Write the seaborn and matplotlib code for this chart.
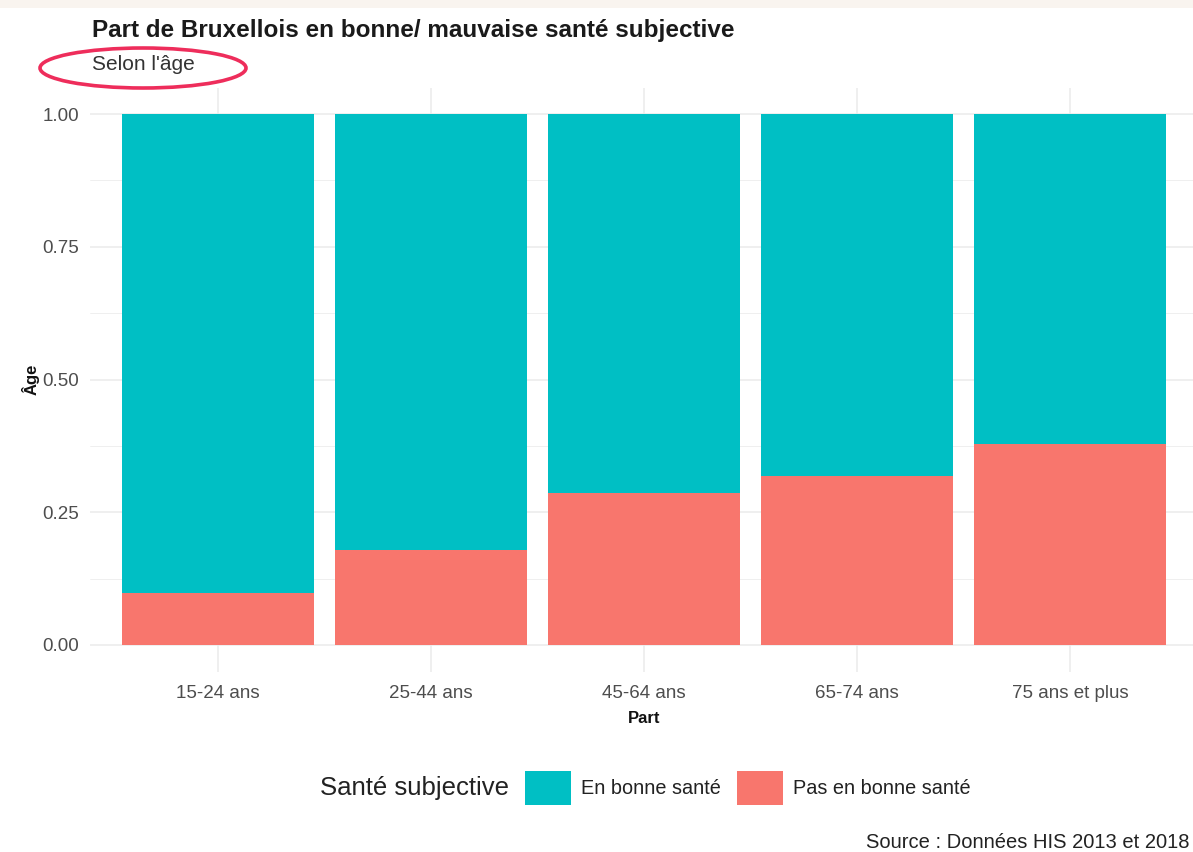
import matplotlib
matplotlib.use("Agg")
import matplotlib.pyplot as plt
from matplotlib.patches import Ellipse, Patch, Rectangle
from matplotlib.ticker import MultipleLocator
import numpy as np
import pandas as pd
import seaborn as sns

# Data: share of Brussels residents by subjective health, per age group
age_groups = ["15-24 ans", "25-44 ans", "45-64 ans", "65-74 ans", "75 ans et plus"]
share_bad = [0.097, 0.178, 0.286, 0.318, 0.378]
share_good = [round(1 - v, 3) for v in share_bad]
health_levels = ["En bonne santé", "Pas en bonne santé"]
y_ticks = [0.00, 0.25, 0.50, 0.75, 1.00]

TEAL = "#00BFC4"
SALMON = "#F8766D"
GRID = "#EBEBEB"
TXT = "#4D4D4D"

sns.set_theme(style="white")
plt.rcParams["font.family"] = ["Liberation Sans", "DejaVu Sans"]

W, H = 1193, 852
fig = plt.figure(figsize=(W / 100, H / 100), dpi=100)
fig.patch.set_facecolor("white")

# pale band along the top edge
fig.add_artist(Rectangle((0, 1 - 8 / H), 1, 8 / H, transform=fig.transFigure,
                         facecolor="#F9F4EF", edgecolor="none", zorder=0))

def fx(px):
    return px / W

def fy(py):
    return 1 - py / H

ax_left, ax_right, ax_top, ax_bottom = 90, 1198, 87.5, 671.5
ax = fig.add_axes([fx(ax_left), fy(ax_bottom), fx(ax_right - ax_left),
                   (ax_bottom - ax_top) / H])
ax.set_facecolor("white")

df = pd.DataFrame({"age": age_groups, "bad": share_bad, "good": share_good})
df["stack_top"] = df["bad"] + df["good"]

# stacked bars: good-health share sits on top of the poor-health share
sns.barplot(data=df, x="age", y="stack_top", color=TEAL, saturation=1,
            width=0.9, ax=ax, zorder=2, order=age_groups, linewidth=0)
sns.barplot(data=df, x="age", y="bad", color=SALMON, saturation=1,
            width=0.9, ax=ax, zorder=3, order=age_groups, linewidth=0)

ax.set_xlim(-0.6, len(age_groups) - 0.4)
ax.set_ylim(-0.05, 1.05)
ax.set_yticks(y_ticks)
ax.set_yticklabels([f"{v:.2f}" for v in y_ticks])
ax.yaxis.set_minor_locator(MultipleLocator(0.125))
ax.grid(which="major", axis="both", color=GRID, linewidth=1.1, zorder=0)
ax.grid(which="minor", axis="y", color=GRID, linewidth=0.55, zorder=0)
ax.set_axisbelow(True)
for s in ax.spines.values():
    s.set_visible(False)
ax.tick_params(axis="both", which="both", length=0, colors=TXT, labelsize=13.5)
ax.tick_params(axis="x", pad=10)
ax.tick_params(axis="y", pad=8)

ax.set_xlabel("Part", fontsize=12, fontweight="bold", color="#111111", labelpad=6)
ax.set_ylabel("Âge", fontsize=12, fontweight="bold", color="#111111", labelpad=2)

# titles
fig.text(fx(92), fy(30), "Part de Bruxellois en bonne/ mauvaise santé subjective",
         fontsize=17.5, fontweight="bold", color="#1A1A1A", ha="left", va="center")
fig.text(fx(92), fy(65), "Selon l'âge", fontsize=15, color="#333333",
         ha="left", va="center")

# highlight ring around the subtitle
fig.add_artist(Ellipse((fx(143), fy(68)), fx(206), 40 / H,
                       transform=fig.transFigure, fill=False,
                       edgecolor="#EE2D5B", linewidth=2.6))

# legend
fig.text(fx(320), fy(788), "Santé subjective", fontsize=18.5, color="#222222",
         ha="left", va="center")
handles = [Patch(facecolor=TEAL, edgecolor="none"),
           Patch(facecolor=SALMON, edgecolor="none")]
fig.legend(handles, health_levels, loc="center left",
           bbox_to_anchor=(fx(525), fy(788)), ncol=2, frameon=False,
           fontsize=14.3, handlelength=2.3, handleheight=2.25,
           handletextpad=0.5, columnspacing=0.85, borderpad=0,
           borderaxespad=0, labelcolor="#222222")

# caption
fig.text(fx(1189), fy(843), "Source : Données HIS 2013 et 2018", fontsize=14.5,
         color="#222222", ha="right", va="center")

fig.savefig("out.png", dpi=100)
